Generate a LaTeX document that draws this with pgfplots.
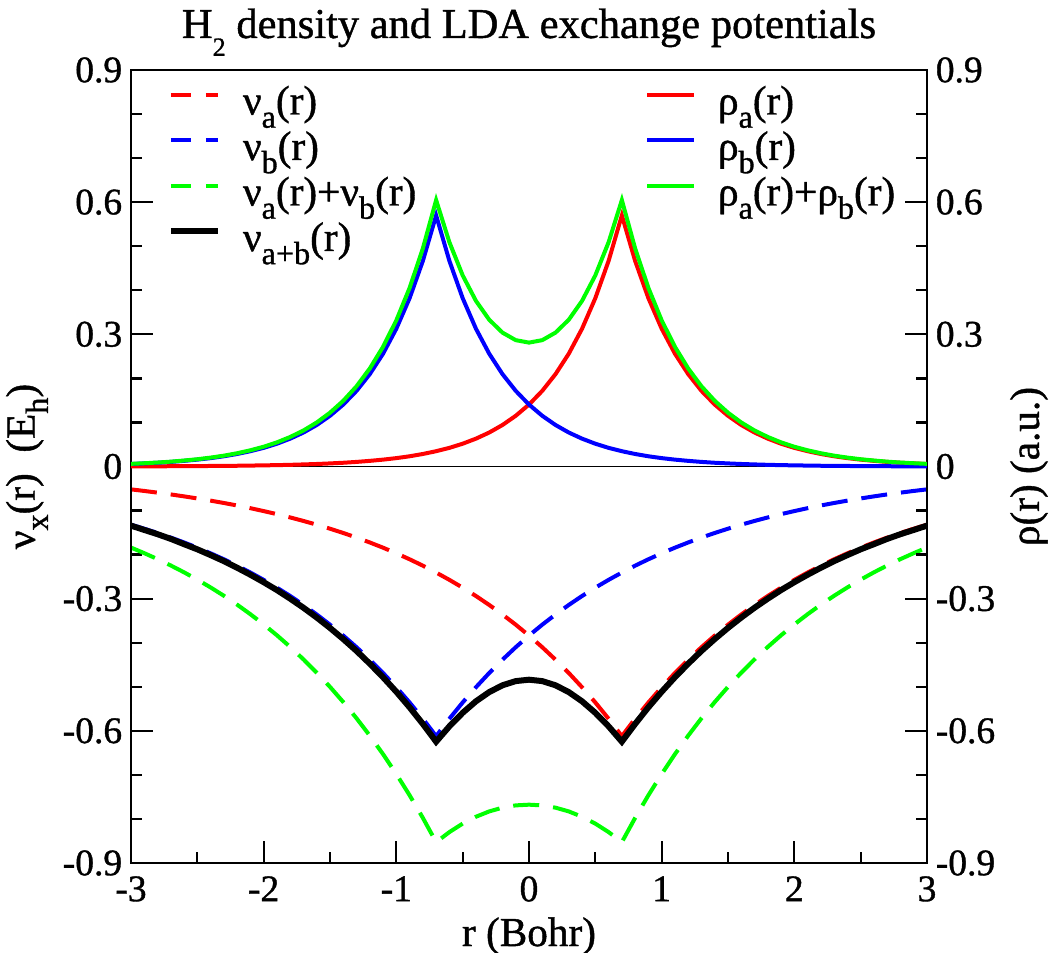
\documentclass[border=0pt]{standalone}
\usepackage{fontspec}
\setmainfont{Liberation Serif}[FakeBold=1]
\usepackage{graphicx}
\usepackage{pgfplots}
\usepackage{pgfplotstable}
\pgfplotsset{compat=1.18}
\definecolor{myred}{RGB}{255,0,0}
\definecolor{myblue}{RGB}{0,0,255}
\definecolor{mygreen}{RGB}{0,255,0}
\newcommand{\sub}[1]{\raisebox{-0.32em}{\scalebox{0.78}{#1}}}
\pgfplotstableread{
r ra rb rs va vb vs vab
-3.0 .0003 .0057 .0060 -.0519 -.1321 -.1840 -.1342
-2.9 .0004 .0070 .0074 -.0555 -.1412 -.1967 -.1440
-2.8 .0005 .0085 .0090 -.0593 -.1509 -.2102 -.1536
-2.7 .0006 .0104 .0110 -.0634 -.1613 -.2247 -.1643
-2.6 .0008 .0128 .0136 -.0678 -.1724 -.2402 -.1763
-2.5 .0009 .0156 .0165 -.0725 -.1843 -.2568 -.1880
-2.4 .0012 .0190 .0202 -.0775 -.1970 -.2745 -.2011
-2.3 .0014 .0232 .0246 -.0828 -.2106 -.2934 -.2148
-2.2 .0017 .0284 .0301 -.0885 -.2251 -.3136 -.2298
-2.1 .0021 .0347 .0368 -.0946 -.2407 -.3353 -.2457
-2.0 .0026 .0423 .0449 -.1012 -.2573 -.3585 -.2626
-1.9 .0031 .0517 .0548 -.1081 -.2750 -.3831 -.2805
-1.8 .0038 .0632 .0670 -.1156 -.2939 -.4095 -.3000
-1.7 .0047 .0771 .0818 -.1236 -.3142 -.4378 -.3206
-1.6 .0057 .0942 .0999 -.1321 -.3359 -.4680 -.3428
-1.5 .0070 .1151 .1221 -.1412 -.3590 -.5002 -.3664
-1.4 .0085 .1406 .1491 -.1509 -.3838 -.5347 -.3917
-1.3 .0104 .1717 .1821 -.1613 -.4102 -.5715 -.4186
-1.2 .0128 .2097 .2225 -.1724 -.4385 -.6109 -.4476
-1.1 .0156 .2561 .2717 -.1843 -.4687 -.6530 -.4784
-1.0 .0190 .3128 .3318 -.1970 -.5011 -.6981 -.5113
-0.9 .0232 .3821 .4053 -.2106 -.5356 -.7462 -.5466
-0.8 .0284 .4667 .4951 -.2251 -.5725 -.7976 -.5843
-0.7 .0347 .5700 .6047 -.2407 -.6120 -.8527 -.6246
-0.6 .0423 .4667 .5090 -.2573 -.5725 -.8298 -.5898
-0.5 .0517 .3821 .4338 -.2750 -.5356 -.8106 -.5591
-0.4 .0632 .3128 .3760 -.2939 -.5011 -.7950 -.5330
-0.3 .0771 .2561 .3332 -.3142 -.4687 -.7829 -.5121
-0.2 .0942 .2097 .3039 -.3359 -.4385 -.7744 -.4966
-0.1 .1151 .1717 .2868 -.3590 -.4102 -.7692 -.4871
0.0 .1406 .1406 .2812 -.3838 -.3838 -.7676 -.4839
0.1 .1717 .1151 .2868 -.4102 -.3590 -.7692 -.4871
0.2 .2097 .0942 .3039 -.4385 -.3359 -.7744 -.4966
0.3 .2561 .0771 .3332 -.4687 -.3142 -.7829 -.5121
0.4 .3128 .0632 .3760 -.5011 -.2939 -.7950 -.5330
0.5 .3821 .0517 .4338 -.5356 -.2750 -.8106 -.5591
0.6 .4667 .0423 .5090 -.5725 -.2573 -.8298 -.5898
0.7 .5700 .0347 .6047 -.6120 -.2407 -.8527 -.6246
0.8 .4667 .0284 .4951 -.5725 -.2251 -.7976 -.5843
0.9 .3821 .0232 .4053 -.5356 -.2106 -.7462 -.5466
1.0 .3128 .0190 .3318 -.5011 -.1970 -.6981 -.5113
1.1 .2561 .0156 .2717 -.4687 -.1843 -.6530 -.4784
1.2 .2097 .0128 .2225 -.4385 -.1724 -.6109 -.4476
1.3 .1717 .0104 .1821 -.4102 -.1613 -.5715 -.4186
1.4 .1406 .0085 .1491 -.3838 -.1509 -.5347 -.3917
1.5 .1151 .0070 .1221 -.3590 -.1412 -.5002 -.3664
1.6 .0942 .0057 .0999 -.3359 -.1321 -.4680 -.3428
1.7 .0771 .0047 .0818 -.3142 -.1236 -.4378 -.3206
1.8 .0632 .0038 .0670 -.2939 -.1156 -.4095 -.3000
1.9 .0517 .0031 .0548 -.2750 -.1081 -.3831 -.2805
2.0 .0423 .0026 .0449 -.2573 -.1012 -.3585 -.2626
2.1 .0347 .0021 .0368 -.2407 -.0946 -.3353 -.2457
2.2 .0284 .0017 .0301 -.2251 -.0885 -.3136 -.2298
2.3 .0232 .0014 .0246 -.2106 -.0828 -.2934 -.2148
2.4 .0190 .0012 .0202 -.1970 -.0775 -.2745 -.2011
2.5 .0156 .0009 .0165 -.1843 -.0725 -.2568 -.1880
2.6 .0128 .0008 .0136 -.1724 -.0678 -.2402 -.1763
2.7 .0104 .0006 .0110 -.1613 -.0634 -.2247 -.1643
2.8 .0085 .0005 .0090 -.1509 -.0593 -.2102 -.1536
2.9 .0070 .0004 .0074 -.1412 -.0555 -.1967 -.1440
3.0 .0057 .0003 .0060 -.1321 -.0519 -.1840 -.1342
}\data
\pgfplotsset{
  common/.style={
    width=318.4pt, height=317.2pt, scale only axis,
    at={(0pt,0pt)}, anchor=south west,
    xmin=-3, xmax=3, ymin=-0.9, ymax=0.9,
    ytick={-0.9,-0.6,-0.3,0,0.3,0.6,0.9},
    yticklabels={-0.9,-0.6,-0.3,0,0.3,0.6,0.9},
    minor y tick num=2,
    tick align=inside,
    major tick length=8.8pt, minor tick length=4.4pt,
    every tick/.style={black, line width=0.9pt},
    axis line style={line width=0.9pt},
    tick label style={font=\fontsize{15pt}{18pt}\selectfont},
    label style={font=\fontsize{16.5pt}{20pt}\selectfont},
    legend style={draw=none, fill=none, inner sep=0pt, outer sep=0pt,
       row sep=0pt, column sep=8.8pt, anchor=north west,
       font=\fontsize{16.5pt}{20pt}\selectfont,
       nodes={inner sep=0pt, text height=12pt, text depth=6.2pt}},
    legend cell align=left,
    legend image code/.code={\draw[##1] (0pt,5pt) -- (18.8pt,5pt);},
  },
  dashleg/.style={legend image code/.code={\draw[##1,dash pattern=on 8pt off 6pt] (0pt,5pt) -- (18.8pt,5pt);}},
}
\begin{document}
\begin{tikzpicture}
\path[use as bounding box] (-52.4pt,-35.6pt) rectangle (367.6pt,345.2pt);
\begin{axis}[common,
  xtick={-3,-2,-1,0,1,2,3}, xticklabels={-3,-2,-1,0,1,2,3}, minor x tick num=1,
  xtick pos=left, ytick pos=left,
  xticklabel style={yshift=-1.8pt},
  title={H\raisebox{-0.42em}{\scalebox{0.62}{2}} density and LDA exchange potentials},
  title style={at={(rel axis cs:0.5,1)}, anchor=base, inner sep=0pt, yshift=6.8pt, font=\fontsize{17pt}{20pt}\selectfont},
  xlabel={r (Bohr)},
  xlabel style={at={(rel axis cs:0.5,0)}, anchor=base, inner sep=0pt, yshift=-33.2pt},
  ylabel={ν\sub{x}(r)\ \ (E\sub{h})},
  ylabel style={at={(rel axis cs:0,0.5)}, anchor=center, yshift=41.6pt},
  legend style={at={(rel axis cs:0,1)}, xshift=14.8pt, yshift=-5.8pt},
]
\addplot[black, line width=0.5pt, forget plot] coordinates {(-3,0) (3,0)};
\addplot[myred, line width=1.6pt, dash pattern=on 10.4pt off 5.6pt, dashleg] table[x=r,y=va]{\data};
\addlegendentry{ν\sub{a}(r)}
\addplot[myblue, line width=1.6pt, dash pattern=on 10.4pt off 5.6pt, dashleg] table[x=r,y=vb]{\data};
\addlegendentry{ν\sub{b}(r)}
\addplot[mygreen, line width=1.6pt, dash pattern=on 10.4pt off 5.6pt, dashleg] table[x=r,y=vs]{\data};
\addlegendentry{ν\sub{a}(r)+ν\sub{b}(r)}
\addplot[black, line width=2.4pt] table[x=r,y=vab]{\data};
\addlegendentry{ν\sub{a+b}(r)}
\end{axis}
\begin{axis}[common,
  xtick=\empty, ytick pos=right, yticklabel pos=right,
  ylabel={ρ(r) (a.u.)},
  ylabel style={at={(rel axis cs:1,0.5)}, anchor=center, yshift=-40.8pt},
  legend style={at={(rel axis cs:0,1)}, xshift=205.6pt, yshift=-5.8pt},
]
\addplot[myred, line width=1.6pt] table[x=r,y=ra]{\data};
\addlegendentry{ρ\sub{a}(r)}
\addplot[myblue, line width=1.6pt] table[x=r,y=rb]{\data};
\addlegendentry{ρ\sub{b}(r)}
\addplot[mygreen, line width=1.6pt] table[x=r,y=rs]{\data};
\addlegendentry{ρ\sub{a}(r)+ρ\sub{b}(r)}
\end{axis}
\end{tikzpicture}
\end{document}
